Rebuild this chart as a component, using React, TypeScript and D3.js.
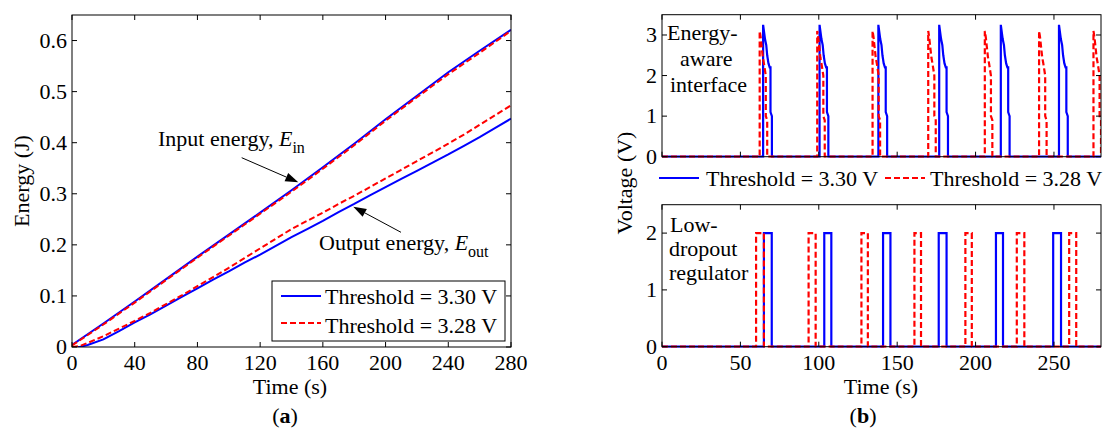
import React from "react";
import * as d3 from "d3";

// (a) energy curves
const tIn = [0, 20, 40, 60, 80, 100, 120, 140, 160, 180, 200, 220, 240, 260, 280];
const inBlue = [0.004, 0.046, 0.089, 0.133, 0.177, 0.22, 0.263, 0.307, 0.352, 0.398, 0.446, 0.492, 0.538, 0.58, 0.621];
const inRed = [0.003, 0.044, 0.087, 0.131, 0.175, 0.218, 0.261, 0.304, 0.349, 0.395, 0.443, 0.489, 0.534, 0.576, 0.619];

const tOut = [0, 5, 10, 20, 30, 40, 50, 60, 70, 80, 90, 100, 110, 120, 130, 140, 150, 160, 170, 180, 190, 200, 210, 220, 230, 240, 250, 260, 270, 280];
const outBlue = [0, 0, 0.004, 0.015, 0.031, 0.048, 0.064, 0.081, 0.098, 0.115, 0.132, 0.148, 0.165, 0.181, 0.198, 0.215, 0.231, 0.247, 0.264, 0.28, 0.297, 0.313, 0.329, 0.345, 0.361, 0.377, 0.394, 0.411, 0.429, 0.447];
const outRed = [0, 0.002, 0.008, 0.021, 0.036, 0.051, 0.067, 0.084, 0.101, 0.119, 0.137, 0.155, 0.174, 0.193, 0.212, 0.231, 0.247, 0.263, 0.28, 0.296, 0.313, 0.33, 0.347, 0.364, 0.381, 0.398, 0.416, 0.435, 0.454, 0.473];

const xTicksA = [0, 40, 80, 120, 160, 200, 240, 280];
const yTicksA = [0, 0.1, 0.2, 0.3, 0.4, 0.5, 0.6];

// (b) energy-aware interface pulses
const eaBlueOn = [64.5, 100.5, 138, 176.8, 216.1, 253.2];
const eaRedOn = [62.3, 99, 134.3, 169.8, 205.9, 240.5, 275.2];
const eaBlueShapeT = [0, 0, 0.5, 1.2, 2.0, 2.6, 3.4, 4.2, 4.7, 4.7, 5.6, 5.6];
const eaBlueShapeV = [0, 3.25, 3.1, 2.9, 2.75, 2.5, 2.3, 2.2, 2.2, 1.1, 1.0, 0];
const eaRedShapeT = [0, 0, 0.6, 1.3, 2.0, 2.7, 3.3, 3.9, 3.9, 4.8, 4.8];
const eaRedShapeV = [0, 3.1, 2.95, 2.7, 2.45, 2.3, 2.15, 2.0, 1.0, 0.9, 0];

// (b) low-dropout regulator pulses
const ldoLevel = 2;
const ldoBlueOn = [65, 103.5, 141, 176.5, 213, 249.5];
const ldoBlueOff = [70, 108, 145.7, 181.5, 217.5, 254.5];
const ldoRedOn = [60, 93.5, 127.2, 161, 193.5, 226.3, 259.7];
const ldoRedOff = [65, 98, 131.3, 165.2, 197.6, 231.1, 264.2];

const xTicksB = [0, 50, 100, 150, 200, 250];
const yTicksTop = [0, 1, 2, 3];
const yTicksBot = [0, 1, 2];

const BLUE = "#0000ff";
const RED = "#ff0000";
const FONT = "'Liberation Serif', 'Times New Roman', serif";
const FS = 22;
const DASH = "6,3";

type Pt = [number, number];

function pulseTrain(on: number[], shapeT: number[], shapeV: number[]): Pt[] {
  const pts: Pt[] = [[0, 0]];
  on.forEach((t0) => {
    shapeT.forEach((dt, i) => pts.push([t0 + dt, shapeV[i]]));
  });
  pts.push([280, 0]);
  return pts;
}

function squareTrain(on: number[], off: number[], level: number): Pt[] {
  const pts: Pt[] = [[0, 0]];
  on.forEach((t0, i) => {
    pts.push([t0, 0], [t0, level], [off[i], level], [off[i], 0]);
  });
  pts.push([280, 0]);
  return pts;
}

function Frame({
  x,
  y,
  xTicks,
  yTicks,
  xLabels,
  yFmt,
}: {
  x: d3.ScaleLinear<number, number>;
  y: d3.ScaleLinear<number, number>;
  xTicks: number[];
  yTicks: number[];
  xLabels: boolean;
  yFmt: (v: number) => string;
}) {
  const [x0, x1] = x.range();
  const [y0, y1] = y.range();
  const tl = 5;
  return (
    <g>
      <rect x={x0} y={y1} width={x1 - x0} height={y0 - y1} fill="none" stroke="#000" strokeWidth={1} />
      {xTicks.map((t) => (
        <g key={"x" + t}>
          <line x1={x(t)} x2={x(t)} y1={y0} y2={y0 - tl} stroke="#000" />
          <line x1={x(t)} x2={x(t)} y1={y1} y2={y1 + tl} stroke="#000" />
          {xLabels && (
            <text x={x(t)} y={y0 + 23} textAnchor="middle" fontSize={FS}>
              {t}
            </text>
          )}
        </g>
      ))}
      {yTicks.map((t) => (
        <g key={"y" + t}>
          <line x1={x0} x2={x0 + tl} y1={y(t)} y2={y(t)} stroke="#000" />
          <line x1={x1} x2={x1 - tl} y1={y(t)} y2={y(t)} stroke="#000" />
          <text x={x0 - 5} y={y(t) + 7} textAnchor="end" fontSize={FS}>
            {yFmt(t)}
          </text>
        </g>
      ))}
    </g>
  );
}

function Arrow({ x1, y1, x2, y2 }: { x1: number; y1: number; x2: number; y2: number }) {
  const a = Math.atan2(y2 - y1, x2 - x1);
  const L = 13;
  const W = 4.5;
  const bx = x2 - L * Math.cos(a);
  const by = y2 - L * Math.sin(a);
  const px = -Math.sin(a) * W;
  const py = Math.cos(a) * W;
  return (
    <g>
      <line x1={x1} y1={y1} x2={bx} y2={by} stroke="#000" strokeWidth={1} />
      <path d={`M${x2},${y2}L${bx + px},${by + py}L${bx - px},${by - py}Z`} fill="#000" />
    </g>
  );
}

export default function App() {
  // panel (a)
  const xa = d3.scaleLinear().domain([0, 280]).range([72, 511]);
  const ya = d3.scaleLinear().domain([0, 0.65]).range([347, 15]);
  const lineIn = d3
    .line<number>()
    .x((_, i) => xa(tIn[i]))
    .y((d) => ya(d));
  const lineOut = d3
    .line<number>()
    .x((_, i) => xa(tOut[i]))
    .y((d) => ya(d));

  // panel (b)
  const xb = d3.scaleLinear().domain([0, 280]).range([662, 1101]);
  const yTop = d3.scaleLinear().domain([0, 3.5]).range([156.7, 14.7]);
  const yBot = d3.scaleLinear().domain([0, 2.5]).range([346.7, 204.7]);
  const lineTop = d3
    .line<Pt>()
    .x((d) => xb(d[0]))
    .y((d) => yTop(d[1]));
  const lineBot = d3
    .line<Pt>()
    .x((d) => xb(d[0]))
    .y((d) => yBot(d[1]));

  const eaBlue = pulseTrain(eaBlueOn, eaBlueShapeT, eaBlueShapeV);
  const eaRed = pulseTrain(eaRedOn, eaRedShapeT, eaRedShapeV);
  const ldoBlue = squareTrain(ldoBlueOn, ldoBlueOff, ldoLevel);
  const ldoRed = squareTrain(ldoRedOn, ldoRedOff, ldoLevel);

  return (
    <svg
      width={1107}
      height={430}
      style={{ position: "absolute", left: 0, top: 0, background: "#fff" }}
      fontFamily={FONT}
    >
      <defs>
        <clipPath id="clipA">
          <rect x={72} y={15} width={439} height={332} />
        </clipPath>
        <clipPath id="clipTop">
          <rect x={662} y={14.7} width={439} height={143} />
        </clipPath>
        <clipPath id="clipBot">
          <rect x={662} y={204.7} width={439} height={143} />
        </clipPath>
      </defs>

      {/* ---------- (a) ---------- */}
      <g clipPath="url(#clipA)">
        <path d={lineIn(inBlue) || ""} fill="none" stroke={BLUE} strokeWidth={2} />
        <path d={lineOut(outBlue) || ""} fill="none" stroke={BLUE} strokeWidth={2} />
        <path d={lineIn(inRed) || ""} fill="none" stroke={RED} strokeWidth={2} strokeDasharray={DASH} />
        <path d={lineOut(outRed) || ""} fill="none" stroke={RED} strokeWidth={2} strokeDasharray={DASH} />
      </g>
      <Frame x={xa} y={ya} xTicks={xTicksA} yTicks={yTicksA} xLabels={true} yFmt={(v) => (v === 0 ? "0" : v.toFixed(1))} />

      <text x={158} y={146} fontSize={FS}>
        Input energy, <tspan fontStyle="italic">E</tspan>
        <tspan fontSize={16} dy={7}>in</tspan>
      </text>
      <Arrow x1={241.7} y1={157.7} x2={298.3} y2={182.3} />
      <text x={319} y={250} fontSize={FS}>
        Output energy, <tspan fontStyle="italic">E</tspan>
        <tspan fontSize={16} dy={7}>out</tspan>
      </text>
      <Arrow x1={401} y1={232.3} x2={353.3} y2={206.7} />

      <g>
        <rect x={272} y={281} width={233} height={60} fill="#fff" stroke="#000" strokeWidth={1} />
        <line x1={281} x2={321} y1={296} y2={296} stroke={BLUE} strokeWidth={2} />
        <text x={325} y={304} fontSize={FS}>Threshold = 3.30 V</text>
        <line x1={281} x2={321} y1={323} y2={323} stroke={RED} strokeWidth={2} strokeDasharray={DASH} />
        <text x={325} y={333} fontSize={FS}>Threshold = 3.28 V</text>
      </g>

      <text x={290} y={394} textAnchor="middle" fontSize={FS}>Time (s)</text>
      <text transform="translate(29,181) rotate(-90)" textAnchor="middle" fontSize={FS}>Energy (J)</text>
      <text x={285} y={423} textAnchor="middle" fontSize={FS}>
        (<tspan fontWeight="bold">a</tspan>)
      </text>

      {/* ---------- (b) top ---------- */}
      <g clipPath="url(#clipTop)">
        <path d={lineTop(eaBlue) || ""} fill="none" stroke={BLUE} strokeWidth={2.2} />
        <path d={lineTop(eaRed) || ""} fill="none" stroke={RED} strokeWidth={2.2} strokeDasharray={DASH} />
      </g>
      <Frame x={xb} y={yTop} xTicks={xTicksB} yTicks={yTicksTop} xLabels={false} yFmt={(v) => String(v)} />
      <text x={667} y={40} fontSize={FS}>Energy-</text>
      <text x={680} y={66} fontSize={FS}>aware</text>
      <text x={670} y={92} fontSize={FS}>interface</text>

      <line x1={659} x2={699} y1={178} y2={178} stroke={BLUE} strokeWidth={2.2} />
      <text x={706} y={186} fontSize={FS}>Threshold = 3.30 V</text>
      <line x1={885} x2={925} y1={178} y2={178} stroke={RED} strokeWidth={2.2} strokeDasharray={DASH} />
      <text x={930} y={186} fontSize={FS}>Threshold = 3.28 V</text>

      {/* ---------- (b) bottom ---------- */}
      <g clipPath="url(#clipBot)">
        <path d={lineBot(ldoBlue) || ""} fill="none" stroke={BLUE} strokeWidth={2.2} />
        <path d={lineBot(ldoRed) || ""} fill="none" stroke={RED} strokeWidth={2.2} strokeDasharray={DASH} />
      </g>
      <Frame x={xb} y={yBot} xTicks={xTicksB} yTicks={yTicksBot} xLabels={true} yFmt={(v) => String(v)} />
      <text x={670} y={232} fontSize={FS}>Low-</text>
      <text x={669} y={256} fontSize={FS}>dropout</text>
      <text x={669} y={280} fontSize={FS}>regulator</text>

      <text x={881} y={394} textAnchor="middle" fontSize={FS}>Time (s)</text>
      <text transform="translate(632,183) rotate(-90)" textAnchor="middle" fontSize={FS}>Voltage (V)</text>
      <text x={863} y={423} textAnchor="middle" fontSize={FS}>
        (<tspan fontWeight="bold">b</tspan>)
      </text>
    </svg>
  );
}
